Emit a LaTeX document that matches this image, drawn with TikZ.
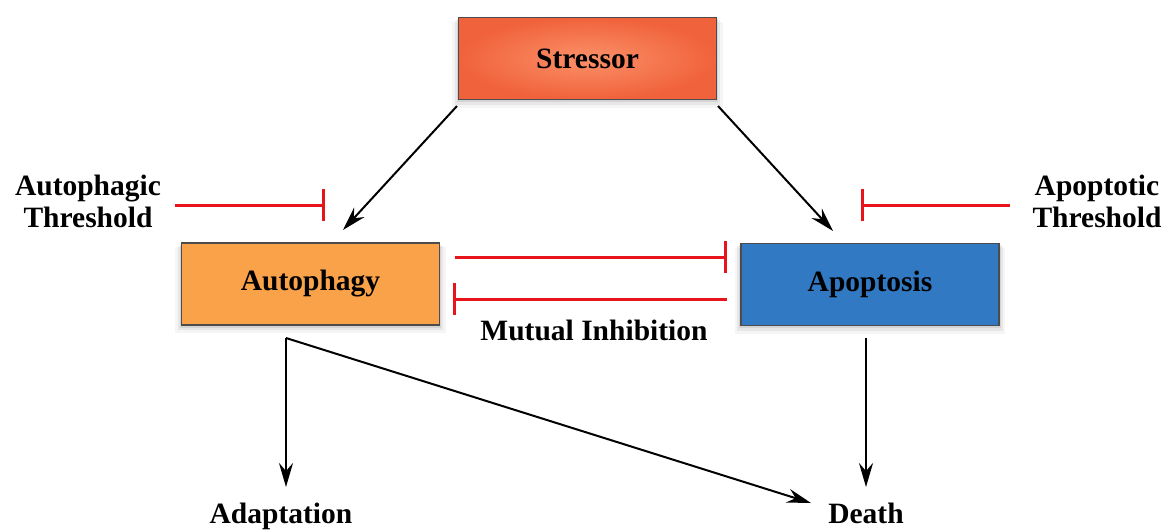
\documentclass[tikz,border=0pt]{standalone}
\usepackage{fontspec}
\setmainfont{Liberation Serif}
\usetikzlibrary{arrows.meta,shadows}
\definecolor{stresscol}{HTML}{F0623B}
\definecolor{stresslight}{HTML}{FB9068}
\definecolor{autocol}{HTML}{F9A24A}
\definecolor{apocol}{HTML}{3279C4}
\definecolor{inhibred}{HTML}{E8141B}

\begin{document}
\begin{tikzpicture}[x=1pt, y=-1pt,
  every node/.style={font=\fontsize{29.5}{32}\selectfont\bfseries},
  procbox/.style={draw=black!70, line width=1.5pt, minimum width=258pt, minimum height=82pt,
    drop shadow={shadow xshift=0pt, shadow yshift=-6pt, shadow scale=1.05, opacity=.08},
    drop shadow={shadow xshift=0pt, shadow yshift=-4pt, shadow scale=1.03, opacity=.12},
    drop shadow={shadow xshift=0pt, shadow yshift=-2pt, shadow scale=1.012, opacity=.18}},
  act/.style={-{Stealth[length=24pt, width=14pt, inset=8pt]}, line width=2pt},
  inhib/.style={-{Bar[width=32pt]}, line width=3pt, draw=inhibred}]
\useasboundingbox (0,0) rectangle (1170,531);

% boxes
\node[procbox, inner color=stresslight, outer color=stresscol](STR) at (587.5,58.5){Stressor};
\node[procbox, fill=autocol](AUT) at (310.5,284){Autophagy};
\node[procbox, fill=apocol](APO) at (870,284.5){Apoptosis};

% labels
\node[align=center](ATH) at (88,201){Autophagic\\Threshold};
\node[align=center](PTH) at (1097,201){Apoptotic\\Threshold};
\node(MUT) at (594,330){Mutual Inhibition};
\node[anchor=base](ADA) at (281,523){Adaptation};
\node[anchor=base](DEA) at (866,523){Death};

% stressor arrows
\coordinate(STRl) at (457,106);
\coordinate(AUTin) at (343,230);
\coordinate(STRr) at (718,106);
\coordinate(APOin) at (833,231);
\draw[act] (STRl) -- (AUTin);
\draw[act] (STRr) -- (APOin);

% thresholds
\coordinate(ATHa) at (175,205);
\coordinate(ATHb) at (325,205);
\coordinate(PTHa) at (1010,205);
\coordinate(PTHb) at (861,205);
\draw[inhib] (ATHa) -- (ATHb);
\draw[inhib] (PTHa) -- (PTHb);

% mutual inhibition
\coordinate(MUTa) at (455,257);
\coordinate(MUTb) at (727,257);
\coordinate(MUTc) at (727,299);
\coordinate(MUTd) at (453,299);
\draw[inhib] (MUTa) -- (MUTb);
\draw[inhib] (MUTc) -- (MUTd);

% outcomes
\coordinate(AUTout) at (286,338);
\coordinate(ADAin) at (286,487);
\coordinate(DEAdiag) at (811,503);
\coordinate(APOout) at (866,338);
\coordinate(DEAin) at (866,487);
\draw[act] (AUTout) -- (ADAin);
\draw[act] (AUTout) -- (DEAdiag);
\draw[act] (APOout) -- (DEAin);
\end{tikzpicture}
\end{document}
